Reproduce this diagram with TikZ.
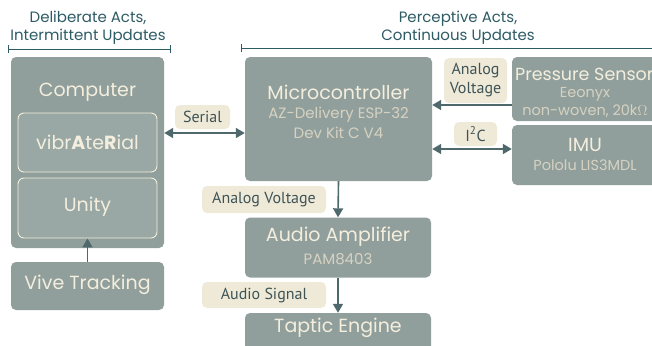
\documentclass[tikz,border=0pt]{standalone}
\usepackage{fontspec}
\setmainfont{Poppins}
\newfontfamily\lblfont{PT Sans}
\usetikzlibrary{arrows.meta}
\definecolor{boxc}{HTML}{919F9C}
\definecolor{innerc}{HTML}{9AA8A5}
\definecolor{creamc}{HTML}{F3EEDD}
\definecolor{subc}{HTML}{D6D2C2}
\definecolor{lblfill}{HTML}{EFE9D8}
\definecolor{lbltext}{HTML}{3E5457}
\definecolor{arrc}{HTML}{4F686B}
\definecolor{headc}{HTML}{2D5B64}
\tikzset{
  blk/.style={rounded corners=5pt, fill=boxc, draw=none, inner sep=0pt},
  inner/.style={rounded corners=6pt, fill=innerc, draw=creamc, line width=0.9pt, inner sep=0pt},
  lbl/.style={rounded corners=5pt, fill=lblfill, draw=none, inner sep=0pt, text=lbltext, font=\lblfont\fontsize{16}{19}\selectfont, align=center},
  ttl/.style={text=creamc, font=\fontsize{19}{22}\selectfont, inner sep=0pt},
  sub/.style={text=subc, font=\fontsize{15}{20}\selectfont, inner sep=0pt, align=center},
  hdr/.style={text=headc, font=\fontsize{15}{18}\selectfont, inner sep=0pt, align=center},
  conn/.style={draw=arrc, line width=1.6pt},
  tip/.style={-{Triangle[width=10pt,length=9pt]}},
  tips/.style={{Triangle[width=10pt,length=9pt]}-{Triangle[width=10pt,length=9pt]}}
}
\begin{document}
\begin{tikzpicture}[x=1pt,y=-1pt]
\useasboundingbox (0,0) rectangle (652,345);
\clip (0,0) rectangle (652,345);
% headers
\node[hdr] (hl) at (88,28) {Deliberate Acts,\\Intermittent Updates};
\node[hdr] (hr) at (458,28) {Perceptive Acts,\\Continuous Updates};
\coordinate (hla) at (8,49); \coordinate (hlb) at (170,49);
\draw[headc, line width=0.9pt] (hla) -- (hlb);
\draw[headc, line width=0.9pt] ([yshift=-3.5pt]hla) -- ([yshift=3.5pt]hla);
\draw[headc, line width=0.9pt] ([yshift=-3.5pt]hlb) -- ([yshift=3.5pt]hlb);
\coordinate (hra) at (241,48); \coordinate (hrb) at (652,48);
\draw[headc, line width=0.9pt] (hra) -- (hrb);
\draw[headc, line width=0.9pt] ([yshift=-4pt]hra) -- ([yshift=4pt]hra);
% left side
\node[blk, minimum width=153pt, minimum height=191pt] (comp) at (87.5,152.5) {};
\node[ttl] (compt) at (87.5,92) {Computer};
\node[inner, minimum width=139pt, minimum height=59pt] (vib) at (87.5,142.5) {};
\node[ttl] (vibt) at (87.5,142) {vibr\textbf{A}te\textbf{R}ial};
\node[inner, minimum width=139pt, minimum height=60pt] (unity) at (87.5,208) {};
\node[ttl] (unityt) at (87.5,207) {Unity};
\node[blk, minimum width=153pt, minimum height=48pt] (vive) at (87.5,286) {};
\node[ttl] (vivet) at (87.5,285) {Vive Tracking};
% microcontroller
\node[blk, minimum width=187pt, minimum height=124pt] (micro) at (338.5,119) {};
\node[ttl] (microt) at (338.5,92) {Microcontroller};
\node[sub] (micros) at (338.5,123) {AZ-Delivery ESP-32\\Dev Kit C V4};
% pressure sensor
\node[blk, minimum width=146pt, minimum height=64pt] (press) at (585,89) {};
\node[ttl, font=\fontsize{17.5}{22}\selectfont, anchor=west] (presst) at (515,74) {Pressure Sensor};
\node[sub, font=\fontsize{14.5}{18}\selectfont] (presss) at (585,102) {Eeonyx\\non-woven, 20k$\Omega$};
% IMU
\node[blk, minimum width=146pt, minimum height=60pt] (imu) at (585,155) {};
\node[ttl] (imut) at (585,145) {IMU};
\node[sub, font=\fontsize{14.5}{18}\selectfont] (imus) at (585,165) {Pololu LIS3MDL};
% amplifier
\node[blk, minimum width=186pt, minimum height=60pt] (amp) at (338,247.5) {};
\node[ttl] (ampt) at (338,237) {Audio Amplifier};
\node[sub] (amps) at (338,259) {PAM8403};
% taptic
\node[blk, minimum width=186pt, minimum height=40pt] (tap) at (338,333) {};
\node[ttl] (tapt) at (338,328) {Taptic Engine};
% labels
\node[lbl, minimum width=55pt, minimum height=24pt] (serial) at (202.5,117) {Serial};
\node[lbl, minimum width=63pt, minimum height=45pt] (av1) at (475.5,80.5) {Analog\\Voltage};
\node[lbl, minimum width=43pt, minimum height=24pt] (i2c) at (475.5,134) {I\textsuperscript{2}C};
\node[lbl, minimum width=124pt, minimum height=27pt] (av2) at (264,199.5) {Analog Voltage};
\node[lbl, minimum width=124pt, minimum height=26pt] (as) at (264,295) {Audio Signal};
% connectors
\coordinate (ys) at (0,133);
\coordinate (yp) at (0,105);
\coordinate (yi) at (0,149);
\draw[conn, tips] (comp.east |- ys) -- (micro.west |- ys);
\draw[conn, tip] (press.west |- yp) -- (micro.east |- yp);
\draw[conn, tips] (micro.east |- yi) -- (imu.west |- yi);
\draw[conn, tip] (micro.south) -- (amp.north);
\draw[conn, tip] (amp.south) -- (tap.north);
\draw[conn, tip] (vive.north) -- (unity.south);
\end{tikzpicture}
\end{document}
